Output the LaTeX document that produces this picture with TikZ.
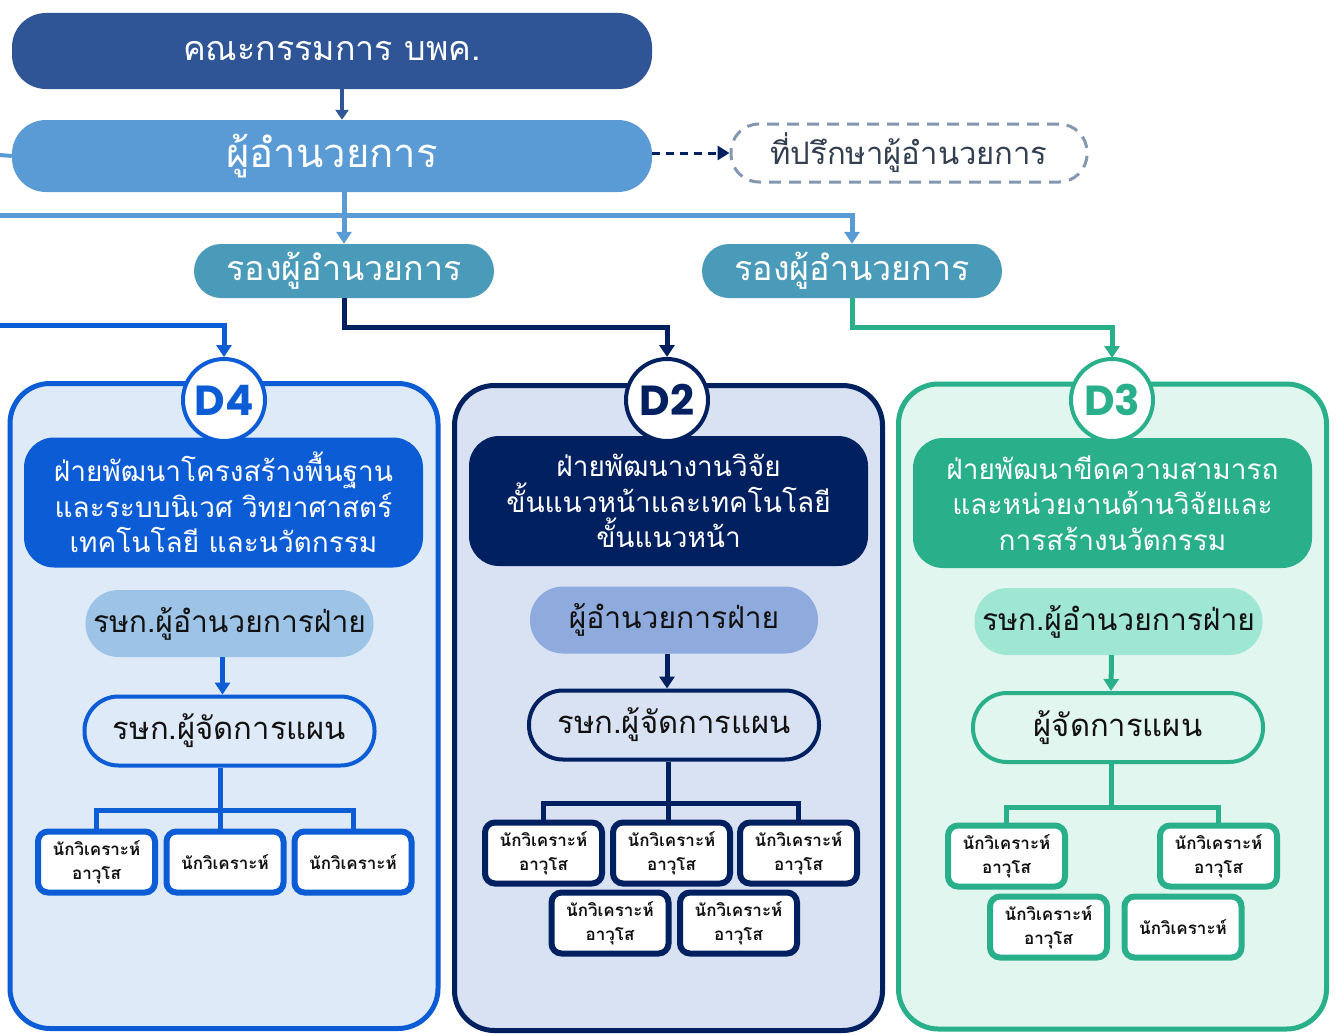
\documentclass[tikz,border=0pt]{standalone}
\usepackage{fontspec}
\setmainfont[Script=Thai]{Loma}
\newfontfamily\dfont{Poppins}
\usetikzlibrary{arrows.meta}
\definecolor{ctop}{HTML}{2F5597}
\definecolor{cdir}{HTML}{5B9BD5}
\definecolor{cdep}{HTML}{4A9BBA}
\definecolor{cadvb}{HTML}{8497B0}
\definecolor{cadvt}{HTML}{333F50}
\definecolor{cnavy}{HTML}{002060}
\definecolor{cblue}{HTML}{0B5CD5}
\definecolor{cgreen}{HTML}{2AAF8B}
\definecolor{fblue}{HTML}{DEEAF8}
\definecolor{fnavy}{HTML}{D9E2F3}
\definecolor{fgreen}{HTML}{E2F6F0}
\definecolor{sblue}{HTML}{9DC3E6}
\definecolor{snavy}{HTML}{8FAADC}
\definecolor{sgreen}{HTML}{9FE6D3}
\definecolor{ctext}{HTML}{111111}
\tikzset{
  boxbase/.style={inner sep=0pt, align=center, rectangle},
  topbox/.style={boxbase, fill=ctop, text=white, rounded corners=34pt, minimum width=640pt, minimum height=76pt, font=\fontsize{34}{40}\selectfont},
  dirbox/.style={boxbase, fill=cdir, text=white, rounded corners=34pt, minimum width=640pt, minimum height=72pt, font=\fontsize{40}{48}\selectfont},
  advbox/.style={boxbase, draw=cadvb, line width=3pt, dash pattern=on 12pt off 8pt, text=cadvt, rounded corners=28pt, minimum width=356pt, minimum height=58pt, font=\fontsize{31}{36}\selectfont},
  depbox/.style={boxbase, fill=cdep, text=white, rounded corners=27pt, minimum width=300pt, minimum height=54pt, font=\fontsize{34}{40}\selectfont},
  panel/.style={boxbase, draw=#1, line width=5pt, rounded corners=40pt, minimum width=428pt, minimum height=645pt},
  dcirc/.style={circle, draw=#1, line width=4pt, fill=white, minimum size=82pt, inner sep=0pt, text=#1, font=\dfont\bfseries\fontsize{42}{44}\selectfont},
  headbox/.style={boxbase, fill=#1, text=white, rounded corners=30pt, minimum width=399pt, minimum height=130pt, font=\fontsize{28}{35.5}\selectfont},
  subbox/.style={boxbase, fill=#1, text=ctext, rounded corners=33pt, minimum width=288pt, minimum height=67pt, font=\fontsize{30}{34}\selectfont},
  planbox/.style args={#1/#2}{boxbase, draw=#1, fill=#2, line width=4pt, text=ctext, rounded corners=34pt, minimum width=290pt, minimum height=69pt, font=\fontsize{31}{36}\selectfont},
  anbox/.style={boxbase, draw=#1, fill=white, line width=6pt, text=ctext, rounded corners=10pt, minimum width=117pt, minimum height=61pt, font=\bfseries\fontsize{17}{24}\selectfont},
  conn/.style={draw=#1, line width=5pt},
  arr/.style={draw=#1, line width=5pt, -{Triangle[length=12pt,width=15pt]}},
}
\begin{document}
\begin{tikzpicture}[x=1pt,y=-1pt]
\useasboundingbox (0,0) rectangle (1338,1033);

% top
\node[topbox] (top) at (332,51) {คณะกรรมการ บพค.};
\node[dirbox] (dir) at (332,156) {ผู้อำนวยการ};
\node[advbox] (adv) at (909,153) {ที่ปรึกษาผู้อำนวยการ};
\node[depbox] (dep1) at (344,271) {รองผู้อำนวยการ};
\node[depbox] (dep2) at (852,271) {รองผู้อำนวยการ};

\coordinate (lstub) at (0,155);
\coordinate (hl) at (0,215);
\coordinate (d4l) at (0,325);

\draw[arr=ctop, line width=4pt, -{Triangle[length=10pt,width=13pt]}] ([xshift=10pt]top.south) -- ([xshift=10pt]dir.north);
\draw[conn=cdir, line width=4pt] (dir.west) -- (lstub);
\draw[draw=cnavy, line width=3pt, dash pattern=on 8pt off 6pt, -{Triangle[length=12pt,width=14pt]}] (dir.east |- adv.west) -- (adv.west);
\draw[arr=cdir] (dep1.north |- dir.south) -- (dep1.north);
\draw[arr=cdir] (hl) -| (dep2.north);

% panels
\node[panel=cblue, fill=fblue] (p4) at (224,706) {};
\node[panel=cnavy, fill=fnavy] (p2) at (668.5,708) {};
\node[panel=cgreen, fill=fgreen] (p3) at (1112.5,706.5) {};

\draw[arr=cblue] (d4l) -| (224,357);
\draw[arr=cnavy] (dep1.south) -- ++(0,29) -| (667,357);
\draw[arr=cgreen] (dep2.south) -- ++(0,29) -| (1112,358);

% D4
\node[headbox=cblue] (h4) at (223.5,502.5) {ฝ่ายพัฒนาโครงสร้างพื้นฐาน\\และระบบนิเวศ วิทยาศาสตร์\\เทคโนโลยี และนวัตกรรม};
\node[dcirc=cblue] (c4) at (224,400) {D4};
\node[subbox=sblue] (s4) at (229.5,623.5) {รษก.ผู้อำนวยการฝ่าย};
\node[planbox=cblue/fblue] (m4) at (229.5,731) {รษก.ผู้จัดการแผน};
\draw[arr=cblue] ([xshift=-7pt]s4.south) -- ([xshift=-7pt]m4.north);
\node[anbox=cblue] (a41) at (96.5,862) {นักวิเคราะห์\\อาวุโส};
\node[anbox=cblue] (a42) at (225,862) {นักวิเคราะห์};
\node[anbox=cblue] (a43) at (353,862) {นักวิเคราะห์};
\coordinate (j4) at (220,810);
\draw[conn=cblue] (m4.south -| j4) -- (j4) -- (j4 |- a42.north);
\draw[conn=cblue] (a41.north) -- (a41.north |- j4) -- (a43.north |- j4) -- (a43.north);

% D2
\node[headbox=cnavy] (h2) at (668.5,501) {ฝ่ายพัฒนางานวิจัย\\ขั้นแนวหน้าและเทคโนโลยี\\ขั้นแนวหน้า};
\node[dcirc=cnavy] (c2) at (667,400) {D2};
\node[subbox=snavy] (s2) at (674,620) {ผู้อำนวยการฝ่าย};
\node[planbox=cnavy/fnavy] (m2) at (674,725) {รษก.ผู้จัดการแผน};
\draw[arr=cnavy] ([xshift=-7pt]s2.south) -- ([xshift=-7pt]m2.north);
\node[anbox=cnavy] (a21) at (543.5,853) {นักวิเคราะห์\\อาวุโส};
\node[anbox=cnavy] (a22) at (671.5,853) {นักวิเคราะห์\\อาวุโส};
\node[anbox=cnavy] (a23) at (798.5,853) {นักวิเคราะห์\\อาวุโส};
\node[anbox=cnavy] (a24) at (610,923) {นักวิเคราะห์\\อาวุโส};
\node[anbox=cnavy] (a25) at (738.5,923) {นักวิเคราะห์\\อาวุโส};
\coordinate (j2) at (668,803);
\draw[conn=cnavy] (m2.south -| j2) -- (j2) -- (j2 |- a22.north);
\draw[conn=cnavy] (a21.north) -- (a21.north |- j2) -- (a23.north |- j2) -- (a23.north);

% D3
\node[headbox=cgreen] (h3) at (1112.5,503) {ฝ่ายพัฒนาขีดความสามารถ\\และหน่วยงานด้านวิจัยและ\\การสร้างนวัตกรรม};
\node[dcirc=cgreen] (c3) at (1112,400) {D3};
\node[subbox=sgreen] (s3) at (1118.5,621.5) {รษก.ผู้อำนวยการฝ่าย};
\node[planbox=cgreen/fgreen] (m3) at (1118,727.5) {ผู้จัดการแผน};
\draw[arr=cgreen] ([xshift=-7pt]s3.south) -- ([xshift=-7pt]m3.north);
\node[anbox=cgreen] (a31) at (1006.5,856) {นักวิเคราะห์\\อาวุโส};
\node[anbox=cgreen] (a32) at (1218.5,856) {นักวิเคราะห์\\อาวุโส};
\node[anbox=cgreen] (a33) at (1048.5,927) {นักวิเคราะห์\\อาวุโส};
\node[anbox=cgreen] (a34) at (1183,927) {นักวิเคราะห์};
\coordinate (j3) at (1111,807);
\draw[conn=cgreen] (m3.south -| j3) -- (j3);
\draw[conn=cgreen] (a31.north) -- (a31.north |- j3) -- (a32.north |- j3) -- (a32.north);
\end{tikzpicture}
\end{document}
